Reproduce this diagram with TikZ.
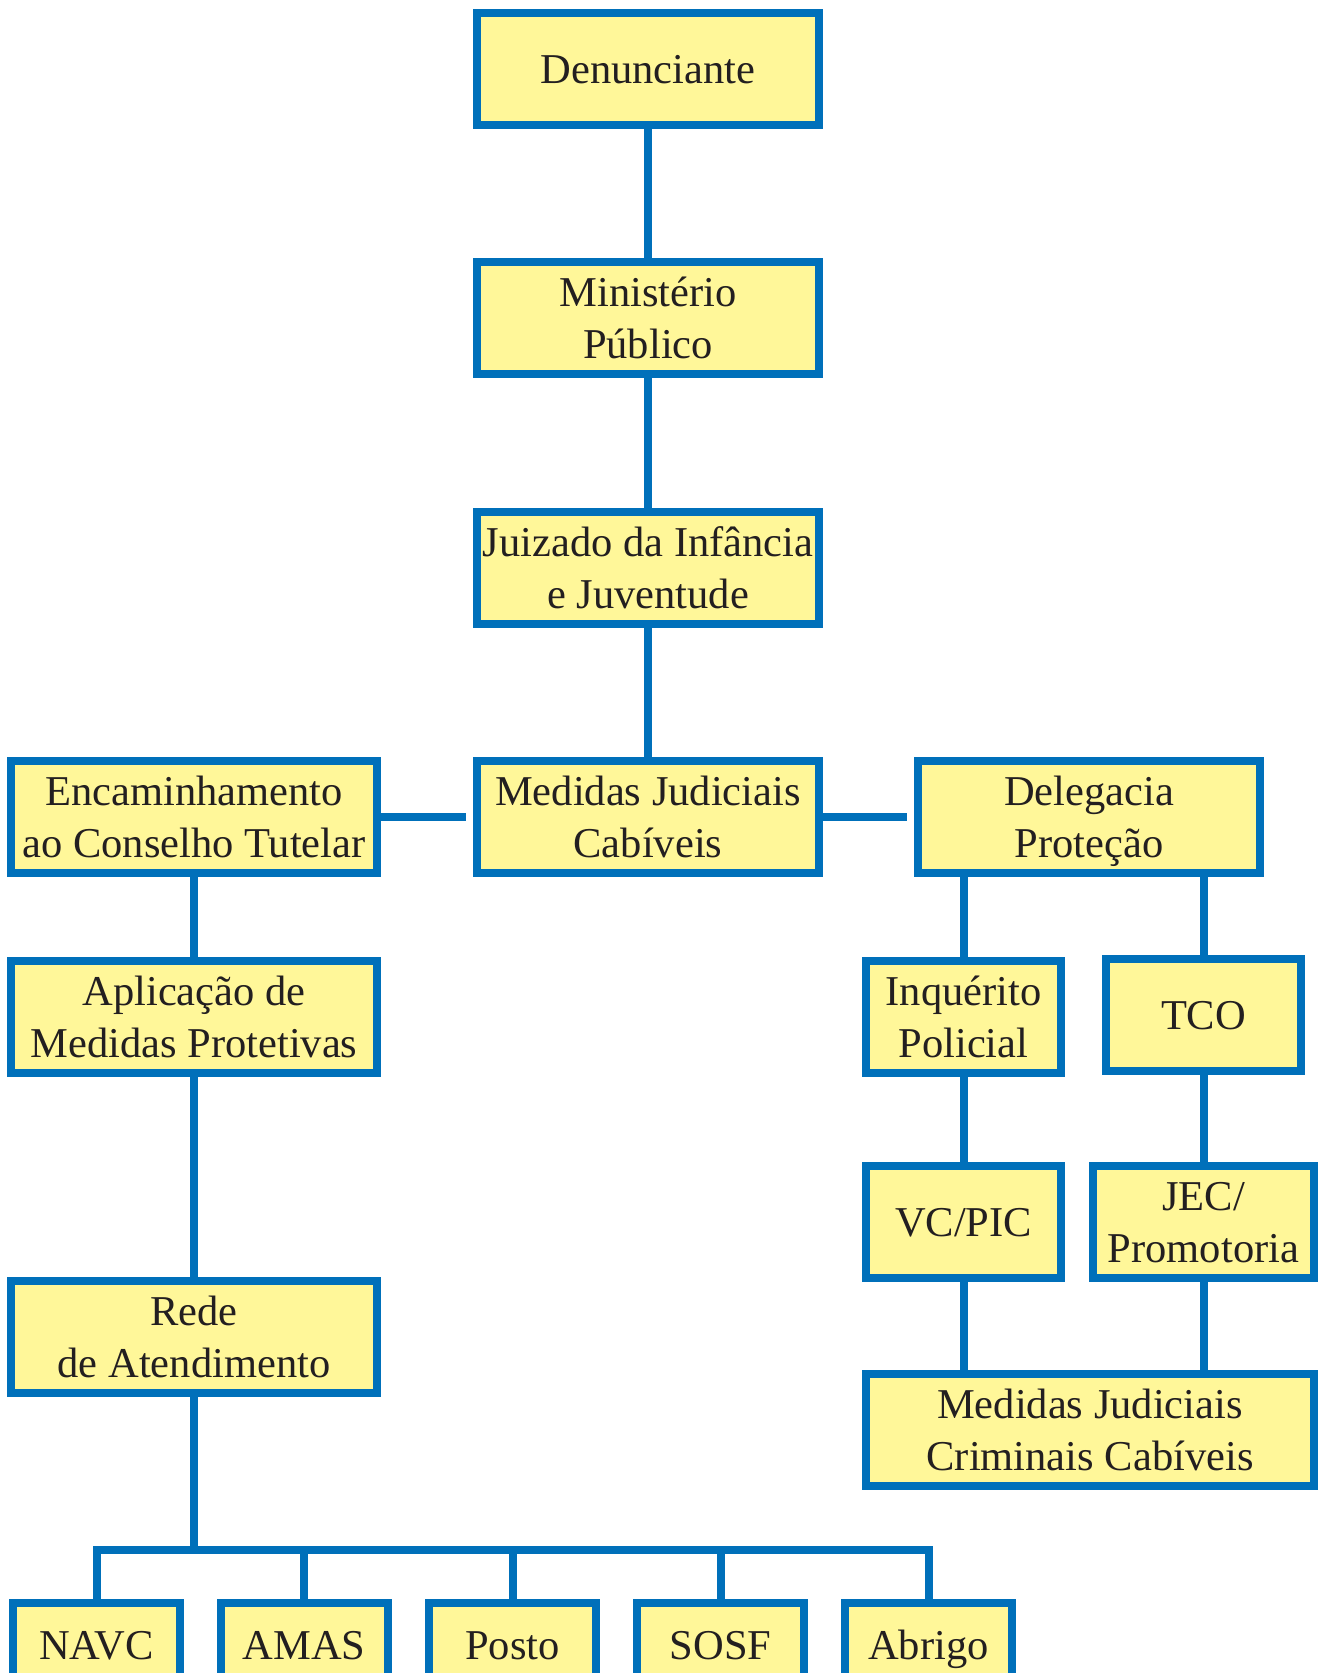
\documentclass[tikz,border=0pt]{standalone}
\usepackage{fontspec}
\setmainfont{Liberation Serif}
\usetikzlibrary{positioning}
\definecolor{fluxblue}{RGB}{0,112,186}
\definecolor{fluxyellow}{RGB}{255,247,153}
\definecolor{fluxtext}{RGB}{35,31,32}
\tikzset{
  caixa/.style={draw=fluxblue,fill=fluxyellow,line width=8pt,inner sep=0pt,
    minimum height=112pt,align=center,text=fluxtext,text depth=0pt,
    font=\fontsize{42.5}{52}\selectfont},
  rodape/.style={caixa,minimum width=167pt,text height=29pt,text depth=29pt},
  liga/.style={draw=fluxblue,line width=8pt},
}
\begin{document}
\begin{tikzpicture}[x=1pt,y=-1pt]
        \useasboundingbox (0,0) rectangle (1325,1673);
        \clip (0,0) rectangle (1325,1673);
        % central column
        \node[caixa,minimum width=342pt] (den) at (648,69) {Denunciante};
        \node[caixa,minimum width=342pt] (mp) at (648,318) {Ministério\\Público};
        \node[caixa,minimum width=342pt] (jij) at (648,568) {Juizado da Infância\\e Juventude};
        \node[caixa,minimum width=342pt] (mjc) at (648,817) {Medidas Judiciais\\Cabíveis};
        % left branch
        \node[caixa,minimum width=366pt] (enc) at (194,817) {Encaminhamento\\ao Conselho Tutelar};
        \node[caixa,minimum width=366pt] (apl) at (194,1017) {Aplicação de\\Medidas Protetivas};
        \node[caixa,minimum width=366pt] (rede) at (194,1337) {Rede\\de Atendimento};
        % right branch
        \node[caixa,minimum width=342pt] (del) at (1089,817) {Delegacia\\Proteção};
        \node[caixa,minimum width=195pt] (inq) at (963.5,1017) {Inquérito\\Policial};
        \node[caixa,minimum width=195pt] (tco) at (1203.5,1015) {TCO};
        \node[caixa,minimum width=195pt] (vcp) at (963.5,1222) {VC/PIC};
        \node[caixa,minimum width=221pt] (jec) at (1203.5,1222) {JEC/\\Promotoria};
        \node[caixa,minimum width=448pt] (mjcc) at (1090,1430) {Medidas Judiciais\\Criminais Cabíveis};
        % bottom row
        \node[rodape] (navc) at (96.5,1659) {NAVC};
        \node[rodape] (amas) at (304,1659) {AMAS};
        \node[rodape] (posto) at (512.5,1659) {Posto};
        \node[rodape] (sosf) at (720.5,1659) {SOSF};
        \node[rodape] (abrigo) at (928.5,1659) {Abrigo};
        \coordinate (bus) at (194,1550);
        % connectors
        \draw[liga] (den) -- (mp);
        \draw[liga] (mp) -- (jij);
        \draw[liga] (jij) -- (mjc);
        \draw[liga,shorten >=7pt] (enc.east) -- (mjc.west);
        \draw[liga,shorten >=7pt] (mjc.east) -- (del.west);
        \draw[liga] (enc) -- (apl);
        \draw[liga] (apl) -- (rede);
        \draw[liga] (del.south -| inq) -- (inq.north);
        \draw[liga] (del.south -| tco) -- (tco.north);
        \draw[liga] (inq) -- (vcp);
        \draw[liga] (tco.south) -- (tco.south |- jec.north);
        \draw[liga] (vcp.south) -- (vcp.south |- mjcc.north);
        \draw[liga] (jec.south) -- (jec.south |- mjcc.north);
        \draw[liga] (rede.south) -- (bus);
        \draw[liga] (navc.north) -- (navc.north |- bus) -- (abrigo.north |- bus) -- (abrigo.north);
        \foreach \b in {amas,posto,sosf}
          \draw[liga] (\b.north |- bus) -- (\b.north);
      \end{tikzpicture}
\end{document}
